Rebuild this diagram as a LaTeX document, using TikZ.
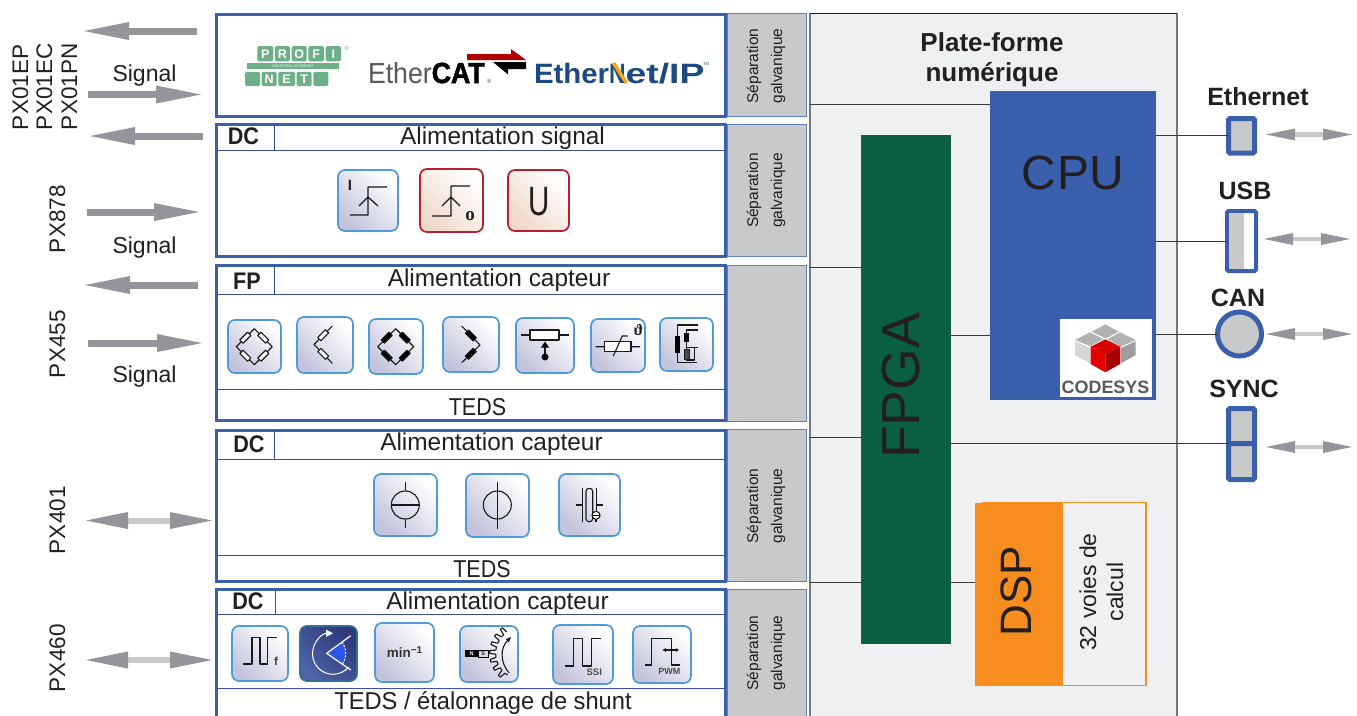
\documentclass[tikz,border=0pt]{standalone}
\usepackage{fontspec}
\usepackage{graphicx}
\setmainfont{Liberation Sans}
\newfontfamily\lserif{Liberation Serif}
\newfontfamily\catfont[BoldFeatures={FakeBold=2}]{Liberation Sans}
\usetikzlibrary{arrows.meta}
\definecolor{pblue}{HTML}{3B5FAB}
\definecolor{rulec}{HTML}{3A4FA2}
\definecolor{gbox}{HTML}{C8C9CB}
\definecolor{gedge}{HTML}{5F80C0}
\definecolor{plat}{HTML}{EFF0F2}
\definecolor{cpuc}{HTML}{3A60AD}
\definecolor{fpgac}{HTML}{0A5F40}
\definecolor{dspc}{HTML}{F78D1E}
\definecolor{arrg}{HTML}{939598}
\definecolor{txt}{HTML}{231F20}
\definecolor{icb}{HTML}{4F9BD9}
\definecolor{icr}{HTML}{B81F2F}
\definecolor{pfg}{HTML}{6DB087}
\definecolor{enip}{HTML}{1C4A7E}
\definecolor{enipy}{HTML}{F2A81D}
\definecolor{icl}{HTML}{C3C4DC}
\definecolor{icrl}{HTML}{EFD9CB}
\definecolor{icdt}{HTML}{2D3A7A}
\definecolor{icdb}{HTML}{4F63A6}
\newcommand{\fs}[1]{\fontsize{#1}{#1}\selectfont}
\newcommand{\bx}[6]{%
  \pgfmathsetmacro\bxcx{(#3+#5)/2}\pgfmathsetmacro\bxcy{(#4+#6)/2}%
  \pgfmathsetmacro\bxw{#5-#3}\pgfmathsetmacro\bxh{#6-#4}%
  \node[#1,minimum width=\bxw pt,minimum height=\bxh pt] (#2) at (\bxcx,\bxcy) {};}
\newcommand{\resi}[4]{\begin{scope}[shift={(#1,#2)},rotate=#3]\draw[sym,fill=#4] (-5.5,-2.3) rectangle (5.5,2.3);\end{scope}}
\newcommand{\bridge}[4]{%
  \begin{scope}[shift={(#1,#2)}]
  \draw[sym] (0,-#3) -- (#3,0) -- (0,#3) -- (-#3,0) -- cycle;
  \resi{#3/2}{-#3/2}{-45}{#4}\resi{#3/2}{#3/2}{45}{#4}\resi{-#3/2}{#3/2}{-45}{#4}\resi{-#3/2}{-#3/2}{45}{#4}
  \end{scope}}
\tikzset{
  every node/.style={inner sep=0pt,outer sep=0pt,text=txt},
  panel/.style={draw=pblue,line width=3pt,fill=white},
  inrule/.style={draw=rulec,line width=1pt},
  galv/.style={draw=gedge,line width=1pt,fill=gbox},
  conn/.style={draw=txt!85!gbox,line width=1pt},
  port/.style={draw=pblue,line width=5pt,fill=gbox,rounded corners=1.5pt},
  icn/.style={draw=icb,line width=1.7pt,rounded corners=7pt,shading=axis,top color=white,bottom color=icl,shading angle=-45},
  icnr/.style={draw=icr,line width=1.7pt,rounded corners=7pt,shading=axis,top color=white,bottom color=icrl,shading angle=-45},
  icnd/.style={draw=icb!70!black,line width=1.7pt,rounded corners=7pt,shading=axis,top color=icdt,bottom color=icdb,shading angle=-45},
  sym/.style={draw=black!90,line width=1.1pt,line join=round},
  sgl/.style={draw=arrg,line width=7pt,-{Triangle[length=45pt,width=18pt,color=arrg,line width=0pt]}},
  dbl/.style={draw=gbox,line width=6pt,{Triangle[length=42pt,width=17pt,color=arrg,line width=0pt]}-{Triangle[length=42pt,width=17pt,color=arrg,line width=0pt]}},
  dbs/.style={draw=gbox,line width=4.5pt,{Triangle[length=29pt,width=12pt,color=arrg,line width=0pt]}-{Triangle[length=29pt,width=12pt,color=arrg,line width=0pt]}},
  lab/.style={anchor=base,font=\fs{24.4}},
  lbl/.style={anchor=base,font=\fs{23}},
  hd/.style={anchor=base,xscale=.9,font=\fs{24}\bfseries},
  ptl/.style={anchor=base,font=\fs{26}\bfseries},
  ptp/.style={anchor=base,font=\fs{25}\bfseries},
  pxv/.style={anchor=base west,rotate=90,font=\fs{22.5}},
  sepl/.style={anchor=base,rotate=90,font=\fs{15.5}},
  pfb/.style={fill=pfg,rounded corners=1.5pt,text=white,font=\fs{12.5}\bfseries},
}
\begin{document}
\begin{tikzpicture}[x=1pt,y=-1pt]
\clip (0,0) rectangle (1357,715);
\fill[white] (0,0) rectangle (1357,715);

% platform
\bx{draw=arrg!80!black,line width=1.5pt,fill=plat}{platf}{810}{13.5}{1177}{740}
\draw[txt,line width=1pt] (platf.north west) -- (platf.north east);

% panels
\bx{panel}{p1}{216}{14.5}{725}{116}
\bx{panel}{p2}{216}{124.5}{725}{256}
\bx{panel}{p3}{216}{265.5}{725}{420}
\bx{panel}{p4}{216}{430}{725}{581}
\bx{panel}{p5}{216}{589.5}{725}{740}
\draw[inrule] (p2.west |- 0,150) -- (p2.east |- 0,150);
\draw[inrule] (274.3,124.5) -- (274.3,150);
\draw[inrule] (p3.west |- 0,294) -- (p3.east |- 0,294);
\draw[inrule] (p3.west |- 0,389.5) -- (p3.east |- 0,389.5);
\draw[inrule] (274.3,265.5) -- (274.3,294);
\draw[inrule] (p4.west |- 0,459.5) -- (p4.east |- 0,459.5);
\draw[inrule] (p4.west |- 0,555) -- (p4.east |- 0,555);
\draw[inrule] (274.3,430) -- (274.3,459.5);
\draw[inrule] (p5.west |- 0,614) -- (p5.east |- 0,614);
\draw[inrule] (p5.west |- 0,688) -- (p5.east |- 0,688);
\draw[inrule] (275,589.5) -- (275,614);

% galvanic boxes
\bx{galv}{g1}{727.5}{13.5}{806}{116}
\bx{galv}{g2}{727.5}{124.5}{806}{256}
\bx{galv}{g3}{727.5}{265}{806}{421}
\bx{galv}{g4}{727.5}{429.5}{806}{581}
\bx{galv}{g5}{727.5}{589.5}{806}{740}

% blocks
\bx{fill=cpuc}{cpu}{990}{91}{1156}{400}
\bx{fill=fpgac}{fpga}{861}{135}{951}{644}
\bx{draw=dspc,line width=1.5pt,fill=plat}{dspo}{983}{502.5}{1146}{685.5}
\bx{fill=dspc}{dsp}{975}{503}{1063}{686}
\bx{fill=white}{cds}{1060}{319}{1152}{397}

% ports
\bx{port}{eth}{1228.5}{118.5}{1254.5}{153}
\bx{draw=pblue,line width=4pt,fill=white,rounded corners=1.5pt}{usb}{1227}{211}{1256}{271}
\fill[gbox] (1229,213) rectangle (1244,269);
\node[draw=pblue,line width=5pt,fill=gbox,circle,minimum size=44pt] (can) at (1239.5,334) {};
\bx{port}{syncA}{1228.5}{408.5}{1254.5}{443.5}
\bx{port}{syncB}{1228.5}{443.5}{1254.5}{479.5}

% connectors
\draw[conn] (platf.west |- 0,104) -- (cpu.west |- 0,104);
\draw[conn] (platf.west |- 0,267) -- (fpga.west |- 0,267);
\draw[conn] (platf.west |- 0,437) -- (fpga.west |- 0,437);
\draw[conn] (platf.west |- 0,582) -- (fpga.west |- 0,582);
\draw[conn] (fpga.east |- 0,582) -- (dsp.west |- 0,582);
\draw[conn] (fpga.east |- 0,335) -- (cpu.west |- 0,335);
\draw[conn] (cpu.east |- eth.west) -- (eth.west);
\draw[conn] (cpu.east |- usb.west) -- (usb.west);
\draw[conn] (cpu.east |- can.west) -- (can.west);
\draw[conn] (fpga.east |- syncA.south west) -- (syncA.south west);

% arrows left
\coordinate (a1s) at (197,31); \coordinate (a1e) at (84,31);
\coordinate (a2s) at (88,94.5); \coordinate (a2e) at (201,94.5);
\coordinate (a3s) at (203,136); \coordinate (a3e) at (90,136);
\coordinate (a4s) at (87,212); \coordinate (a4e) at (199,212);
\coordinate (a5s) at (198,285); \coordinate (a5e) at (85,285);
\coordinate (a6s) at (88,343); \coordinate (a6e) at (202,343);
\draw[sgl] (a1s) -- (a1e); \draw[sgl] (a2s) -- (a2e); \draw[sgl] (a3s) -- (a3e);
\draw[sgl] (a4s) -- (a4e); \draw[sgl] (a5s) -- (a5e); \draw[sgl] (a6s) -- (a6e);
\coordinate (d1s) at (86,520.5); \coordinate (d1e) at (212,520.5);
\coordinate (d2s) at (86,660); \coordinate (d2e) at (212,660);
\draw[dbl] (d1s) -- (d1e); \draw[dbl] (d2s) -- (d2e);
% arrows right
\coordinate (r1s) at (1266,134.5); \coordinate (r1e) at (1352,134.5);
\coordinate (r2s) at (1264,239); \coordinate (r2e) at (1350,239);
\coordinate (r3s) at (1266,334); \coordinate (r3e) at (1352,334);
\coordinate (r4s) at (1266,447); \coordinate (r4e) at (1352,447);
\draw[dbs] (r1s) -- (r1e); \draw[dbs] (r2s) -- (r2e); \draw[dbs] (r3s) -- (r3e); \draw[dbs] (r4s) -- (r4e);

% left labels
\node[pxv] (lEP) at (28,130) {PX01EP};
\node[pxv] (lEC) at (52,130) {PX01EC};
\node[pxv] (lPN) at (77,130) {PX01PN};
\node[pxv] (l878) at (65,253) {PX878};
\node[pxv] (l455) at (65,378) {PX455};
\node[pxv] (l401) at (65,554) {PX401};
\node[pxv] (l460) at (65,692) {PX460};
\node[lbl] (s1) at (144.5,81) {Signal};
\node[lbl] (s2) at (144.5,253) {Signal};
\node[lbl] (s3) at (144.5,382) {Signal};

% panel texts
\node[hd] (h2) at (243.5,144.5) {DC};
\node[hd] (h3) at (247,289) {FP};
\node[hd] (h4) at (249,452.5) {DC};
\node[hd] (h5) at (248,609.5) {DC};
\node[lab] (t2) at (502.5,144) {Alimentation signal};
\node[lab] (t3) at (499,286) {Alimentation capteur};
\node[lab] (t4) at (491.5,450) {Alimentation capteur};
\node[lab] (t5) at (497.5,609) {Alimentation capteur};
\node[lab,xscale=.88] (b3) at (477.5,415) {TEDS};
\node[lab,xscale=.88] (b4) at (482,577) {TEDS};
\node[lab,xscale=.97] (b5) at (483,709.5) {TEDS / étalonnage de shunt};

% separation labels
\foreach \nm/\yy in {a/66,b/190.5,c/506,d/653}{
  \node[sepl] (sp\nm) at (758,\yy) {Séparation};
  \node[sepl] (gl\nm) at (782,\yy) {galvanique};
}

% platform labels
\node[ptl] (pf1) at (992,51) {Plate-forme};
\node[ptl] (pf2) at (992,81) {numérique};
\node[anchor=base,font=\fs{48}] (cput) at (1073,189.3) {C\kern1pt PU};
\node[anchor=base,rotate=90,font=\fs{53.5}] (fpgat) at (919,386) {FPGA};
\node[anchor=base,rotate=90,font=\fs{44}] (dspt) at (1031,591) {DSP};
\node[anchor=base,rotate=90,font=\fs{23}] (v1) at (1096,592) {32 voies de};
\node[anchor=base,rotate=90,font=\fs{23}] (v2) at (1123,592) {calcul};
\node[ptp] (nEth) at (1258,105) {Ethernet};
\node[ptp] (nUsb) at (1245,199) {USB};
\node[ptp] (nCan) at (1238,306) {CAN};
\node[ptp] (nSync) at (1244,397) {SYNC};

% CODESYS logo
\begin{scope}[shift={(1040,300)},x=0.3333pt,y=-0.3333pt]
\fill[black!30] (196,73) -- (236,95) -- (196,115) -- (155,95) -- cycle;
\fill[black!30] (105,120) -- (150,97) -- (190,118) -- (150,138) -- cycle;
\fill[black!30] (202,118) -- (240,97) -- (287,120) -- (243,140) -- cycle;
\fill[black!16] (105,124) -- (150,144) -- (150,190) -- (105,165) -- cycle;
\fill[black!38] (243,144) -- (287,124) -- (287,165) -- (243,190) -- cycle;
\fill[red!85!black] (196,118) -- (241,140) -- (196,165) -- (152,140) -- cycle;
\fill[red!90!black] (152,140) -- (196,165) -- (196,217) -- (152,192) -- cycle;
\fill[red!65!black] (241,140) -- (196,165) -- (196,217) -- (241,192) -- cycle;
\end{scope}
\node[anchor=base,font=\fs{17.9}\bfseries,text=black!65] (cdst) at (1105.5,393) {CODESYS};

% PROFINET logo
\foreach \nm/\xa/\xb/\ltr in {a/257.3/273.3/P,b/275/290/R,c/291.7/306.7/O,d/308.3/324/F,e/325.7/341/I}{
  \pgfmathsetmacro\bcx{(\xa+\xb)/2}\pgfmathsetmacro\bwd{\xb-\xa}
  \node[pfb,minimum width=\bwd pt,minimum height=15.3pt] (pft\nm) at (\bcx,53.7) {\ltr};
}
\foreach \nm/\xa/\xb/\ltr in {a/245/260/{},b/261.7/276.7/N,c/278.3/295/E,d/296.7/311.7/T,e/313.3/328.3/{}}{
  \pgfmathsetmacro\bcx{(\xa+\xb)/2}\pgfmathsetmacro\bwd{\xb-\xa}
  \node[pfb,minimum width=\bwd pt,minimum height=14.3pt] (pfu\nm) at (\bcx,78.9) {\ltr};
}
\node[fill=pfg,minimum width=92.6pt,minimum height=6pt,text=white,font=\fs{3.6}] (pfbar) at (293,66.3) {INDUSTRIAL ETHERNET};
\node[font=\fs{6},text=pfg] (pfr) at (346.5,48) {®};

% EtherCAT logo
\node[anchor=base west,xscale=.92,font=\catfont\fs{29},text=black!65] (ecat) at (368,83) {Ether{\bfseries\color{black}CAT}};
\node[font=\fs{6},text=black!65] (ecatr) at (489,81) {®};
\fill[red!70!black] (467,54) -- (511,54) -- (511,49) -- (526,60) -- (467,60) -- cycle;
\fill[black] (493,62) -- (526,62) -- (526,69) -- (508,69) -- (508,74.5) -- cycle;

% EtherNet/IP logo
\node[anchor=base west,font=\fs{28}\bfseries,text=enip] (enet) at (534,83) {\scalebox{1.05}[1]{Ether}\scalebox{.82}[1]{N}\scalebox{1.33}[1]{et/IP}};
\draw[enipy,line width=3.6pt] (613.5,63) -- (626.5,83);
\node[font=\fs{4},text=enip] (enettm) at (706,64) {TM};

% Icons row 2
\bx{icn}{i21}{338}{170}{398}{231}
\bx{icnr}{i22}{420}{169}{483}{232}
\bx{icnr}{i23}{508}{170}{569}{231}
\draw[sym,line width=1.2pt] (350,215) -- (368,215) -- (368,187) -- (387,187) (359,206) -- (368,197) -- (378,206);
\node[font=\fs{15}\bfseries] (iI) at (350,185.5) {I};
\draw[sym,line width=1.2pt] (432,216) -- (451,216) -- (451,186) -- (470,186) (442,206) -- (451,197) -- (460,206);
\node[font=\lserif\fs{19}\bfseries] (iO) at (470,216.5) {o};
\node[xscale=.72,font=\fs{41}] (iU) at (539,201.5) {U};

% Icons row 3
\bx{icn}{i31}{228}{320}{281}{373}
\bx{icn}{i32}{297}{317}{353}{373}
\bx{icn}{i33}{369}{319}{423}{374}
\bx{icn}{i34}{443}{317}{499}{372}
\bx{icn}{i35}{516}{318}{574}{373}
\bx{icn}{i36}{591}{319}{645}{372}
\bx{icn}{i37}{660}{318}{713}{371}
\bridge{254.3}{346.7}{18}{white}
\bridge{395.7}{346.7}{18}{black}
\draw[sym] (332.3,326) -- (314,344.5) -- (332.3,363.3);
\resi{323.2}{335.2}{45}{white}\resi{323.2}{353.9}{-45}{white}
\draw[sym] (461.7,326) -- (480,345) -- (461.7,362.7);
\resi{470.8}{335.5}{-45}{black}\resi{470.8}{353.8}{45}{black}
% pot
\draw[sym,fill=white] (530,330) rectangle (559,340);
\draw[sym] (521,335) -- (530,335) (559,335) -- (569,335) (545,346) -- (545,357);
\fill[black] (545,341.5) -- (549,347.5) -- (541,347.5) -- cycle;
\fill[black] (545,357) circle (3.5pt);
% thermistor
\draw[sym,fill=white] (604.3,341.7) rectangle (631,351.3);
\draw[sym] (595.7,346.7) -- (604.3,346.7) (631,346.7) -- (640,346.7) (613.3,356) -- (622.3,336) -- (627.7,336);
\node[font=\lserif\fs{16}\bfseries] (ith) at (638.5,330) {ϑ};
% LVDT
\draw[sym] (698.3,325) -- (677.3,325) -- (677.3,362.3) -- (696.7,362.3);
\draw[sym] (698.3,330) -- (686.7,330) -- (686.7,347.3) -- (698.3,347.3);
\draw[sym] (686.7,347.3) -- (686.7,360) -- (694.5,360) -- (694.5,347.3);
\fill[black] (675,336) rectangle (680,352.7);
\fill[black] (684.3,332.7) rectangle (689,341.7);
\draw[sym,line width=.8pt,fill=black!70] (684.3,349.3) rectangle (689,359.3);

% Icons row 4
\bx{icn}{i41}{374}{474}{437}{536}
\bx{icn}{i42}{466}{474}{529}{537}
\bx{icn}{i43}{559}{474}{620}{536}
\draw[sym] (405.3,505) circle (14pt);
\draw[sym] (391.3,505) -- (419.3,505) (405.3,482.3) -- (405.3,491) (405.3,519) -- (405.3,528.3);
\draw[sym] (497.3,505) circle (14pt);
\draw[sym] (497.3,482.3) -- (497.3,529);
\draw[sym,rounded corners=3pt] (586,488.3) rectangle (592.7,521.7);
\draw[sym] (582.3,488.3) -- (582.3,521.7) (596.7,488.3) -- (596.7,511) (575.7,505) -- (582.3,505) (596.7,505) -- (603.3,505) (596,519.3) -- (596,522);
\draw[sym,fill=white] (596,515.3) circle (4pt);
\draw[sym] (592,515.3) -- (600,515.3);

% Icons row 5
\bx{icn}{i51}{232}{626}{288}{681}
\bx{icnd}{i52}{300}{626}{357}{681}
\bx{icn}{i53}{375}{623}{434}{682}
\bx{icn}{i54}{460}{626}{518}{682}
\bx{icn}{i55}{553}{625}{613}{684}
\bx{icn}{i56}{633}{626}{691}{683}
\draw[sym] (243.3,664) -- (252,664) -- (252,637.3) -- (260,637.3) -- (260,664) -- (267.7,664) -- (267.7,637.3) -- (276.7,637.3);
\node[font=\fs{11.5}\bfseries,text=black!75] (if) at (276,661) {f};
% angle
\fill[icb!55!blue] (326.7,653.3) -- ++(36:19pt) arc[start angle=36,end angle=-36,radius=19pt] -- cycle;
\draw[white,line width=1pt,dash pattern=on 2pt off 1.5pt] (326.7,653.3) ++(36:19pt) arc[start angle=36,end angle=-36,radius=19pt];
\draw[white,line width=1.2pt] (350.7,635.7) -- (326.7,653.3) -- (350.7,670);
\draw[white,line width=1pt,{Triangle[length=7pt,width=7pt,color=white]}-] (333,633.3) arc[start angle=90,end angle=320,radius=20.5pt];
\node[font=\fs{13.5}\bfseries,text=black!80] (imin) at (404.5,652) {min\raisebox{4.5pt}{\fs{10}−1}};
% gear
\node[fill=black,minimum width=13.3pt,minimum height=7.5pt,text=white,font=\fs{5.5}\bfseries] (iN) at (471.6,653.7) {N};
\node[draw=black,line width=.7pt,fill=white!85!black,minimum width=10pt,minimum height=7pt,font=\fs{5.5}\bfseries] (iS) at (483.3,653.7) {S};
\begin{scope}[shift={(521.7,653.3)}]
\foreach \a in {125,141,157,173,189,205,221}{
  \draw[sym] (\a:26pt) -- (\a+2:32pt) -- (\a+7:32pt) -- (\a+9:26pt) -- (\a+16:26pt);
}
\end{scope}
\draw[sym,-{Latex[length=6pt,width=5pt]}] (509,673) .. controls (500,662) and (500,648) .. (511.5,636.5);
% SSI
\draw[sym] (565,666) -- (573.3,666) -- (573.3,638.3) -- (582.7,638.3) -- (582.7,666) -- (591.7,666) -- (591.7,638.3) -- (600.7,638.3);
\node[font=\fs{9.5}\bfseries,text=black!70] (issi) at (594.3,672.5) {SSI};
% PWM
\draw[sym] (645,665) -- (651.7,665) -- (651.7,638.3) -- (671.7,638.3) -- (671.7,665) -- (680,665);
\draw[sym,{Latex[length=3.5pt,width=4pt]}-{Latex[length=3.5pt,width=4pt]}] (662.3,650) -- (679.3,650);
\node[font=\fs{9}\bfseries,text=black!70] (ipwm) at (669.3,671.7) {PWM};
\end{tikzpicture}
\end{document}
